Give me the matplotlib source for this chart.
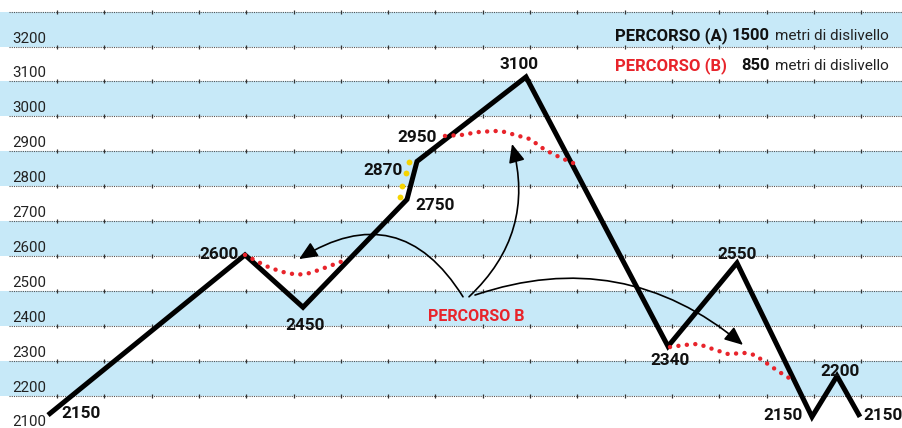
import numpy as np
import matplotlib
matplotlib.use("Agg")
import matplotlib.pyplot as plt
from matplotlib.patches import FancyArrowPatch

# percorso A (linea nera): distanza, quota
dist_a = [48, 245, 303, 407, 417, 526, 668, 737, 812, 837, 860]
quota_a = [2144, 2603, 2453, 2762, 2871, 3113, 2341, 2580, 2139, 2256, 2139]

# percorso B (tratti rossi a puntini)
dist_b1 = [245, 258, 270, 283, 297, 310, 322, 335, 348]
quota_b1 = [2603, 2583, 2566, 2554, 2546, 2551, 2563, 2577, 2591]
dist_b2 = [445, 462, 478, 494, 501, 515, 530, 545, 561, 575, 580]
quota_b2 = [2944, 2947, 2955, 2958, 2958, 2947, 2935, 2904, 2881, 2864, 2861]
dist_b3 = [670, 685, 698, 712, 728, 745, 755, 765, 778, 792]
quota_b3 = [2339, 2345, 2348, 2334, 2319, 2322, 2316, 2296, 2270, 2245]

# puntini gialli
dist_y = [409, 406, 402, 400]
quota_y = [2869, 2838, 2801, 2769]

# etichette quote
etichette = ["2150", "2600", "2450", "2750", "2870", "2950", "3100",
             "2340", "2550", "2150", "2200", "2150"]
etich_x = [81, 219, 305, 435, 383, 417, 519, 670, 737, 783, 840, 883]
etich_y = [2136, 2591, 2388, 2732, 2832, 2927, 3136, 2288, 2591, 2130, 2256, 2130]

griglia = list(range(2200, 3400, 100))
tick_lab = list(range(2100, 3300, 100))

ROSSO = "#e8242b"
NERO = "#111111"
AZZURRO = "#c7e9f8"
GIALLO = "#f6d400"
FONT = ["Roboto", "DejaVu Sans"]

fig = plt.figure(figsize=(9.02, 4.28), dpi=100)
ax = fig.add_axes([0, 0, 1, 1])
ax.set_xlim(0, 902)
ax.set_ylim(2107, 3333.5)
ax.set_axis_off()

# fasce azzurre alternate
for q in range(2200, 3300, 200):
    ax.axhspan(q, q + 100, color=AZZURRO, lw=0, zorder=0)

# griglia a puntini con piccole tacche
for q in griglia:
    ax.plot([9, 902], [q, q], color="#555555", lw=0.8, ls=(0, (1, 1)), zorder=1)
    xt = np.arange(57, 902, 47.3)
    ax.plot(xt, [q] * len(xt), ls="none", marker="|", ms=3, mew=0.9,
            color="#333333", zorder=1)

for q in tick_lab:
    ax.text(12, q + 11.5, str(q), fontsize=10.8, family=FONT, color="#222222",
            ha="left", va="baseline", zorder=2)

# percorso A
ax.plot(dist_a, quota_a, color="black", lw=3.6, solid_joinstyle="miter",
        solid_capstyle="butt", zorder=4)

# percorso B
for xs, ys in [(dist_b1, quota_b1), (dist_b2, quota_b2), (dist_b3, quota_b3)]:
    ax.plot(xs, ys, color=ROSSO, lw=3.2, ls=(0, (0.01, 1.9)),
            dash_capstyle="round", zorder=5)

ax.plot(dist_y, quota_y, ls="none", marker="o", ms=4.2, color=GIALLO,
        mec="none", zorder=5)

for t, x, y in zip(etichette, etich_x, etich_y):
    ax.text(x, y, t, fontsize=12.3, fontweight="bold", family=FONT,
            color=NERO, ha="center", va="baseline", zorder=6)

# frecce dal testo PERCORSO B
frecce = [((463, 2483), (299, 2591), 0.5),
          ((469, 2483), (512, 2921), 0.3),
          ((475, 2488), (743, 2345), -0.28)]
for p0, p1, rad in frecce:
    ax.add_patch(FancyArrowPatch(p0, p1, connectionstyle="arc3,rad=%s" % rad,
                                 arrowstyle="-|>,head_length=0.8,head_width=0.35",
                                 mutation_scale=14, lw=1.2, color="black",
                                 shrinkA=0, shrinkB=0, zorder=3))

ax.text(476, 2414, "PERCORSO B", fontsize=11.5, fontweight="bold", family=FONT,
        color=ROSSO, ha="center", va="baseline", zorder=6)

# legenda
ax.text(615, 3219, "PERCORSO (A)", fontsize=12, fontweight="bold", family=FONT,
        color=NERO, ha="left", va="baseline")
ax.text(770, 3219, "1500", fontsize=12, fontweight="bold", family=FONT,
        color=NERO, ha="right", va="baseline")
ax.text(775, 3219, "metri di dislivello", fontsize=11, family=FONT,
        color="#222222", ha="left", va="baseline")
ax.text(615, 3133, "PERCORSO (B)", fontsize=12, fontweight="bold", family=FONT,
        color=ROSSO, ha="left", va="baseline")
ax.text(770, 3133, "850", fontsize=12, fontweight="bold", family=FONT,
        color=NERO, ha="right", va="baseline")
ax.text(775, 3133, "metri di dislivello", fontsize=11, family=FONT,
        color="#222222", ha="left", va="baseline")

fig.savefig("out.png", dpi=100)
